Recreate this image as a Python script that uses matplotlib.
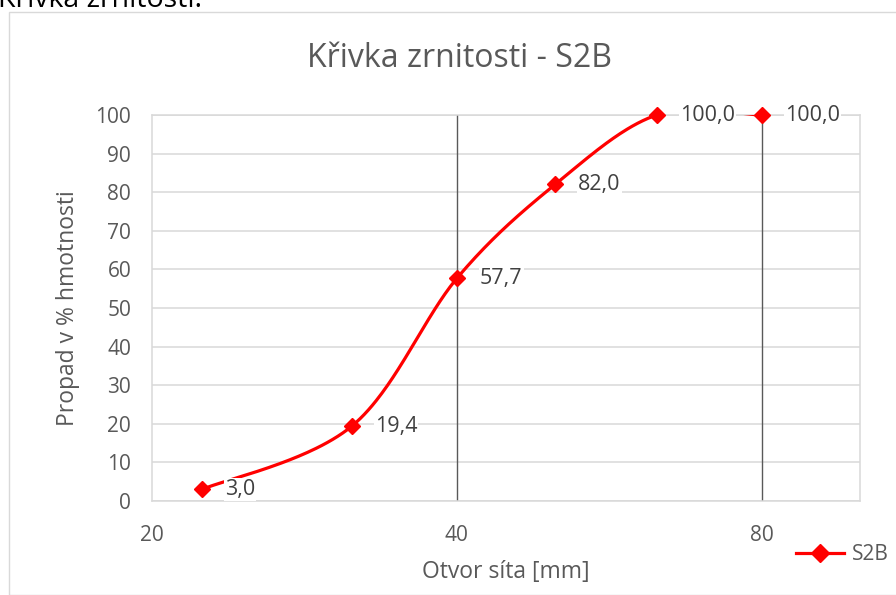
import numpy as np
import matplotlib
matplotlib.use("Agg")
import matplotlib.pyplot as plt
from matplotlib.patches import Rectangle
from matplotlib.lines import Line2D

plt.rcParams['font.family'] = ['Open Sans', 'DejaVu Sans']

sieve_mm = [22.4, 31.5, 40, 50, 63, 80]
passing = [3.0, 19.4, 57.7, 82.0, 100.0, 100.0]
series_name = "S2B"
x_ticks = [20, 40, 80]
y_ticks = list(range(0, 101, 10))

W, H = 896, 595
fig = plt.figure(figsize=(W / 100, H / 100), dpi=100)

# chart border
fig.patches.append(Rectangle((9 / W, 0), 1.0, 1 - 12 / H, transform=fig.transFigure,
                             fill=False, edgecolor='#d9d9d9', linewidth=1.0))
fig.text(-2 / W, 1 - 7 / H, "Křivka zrnitosti:", fontsize=20.5, color='black',
         ha='left', va='baseline')

ax = fig.add_axes([152 / W, (H - 501) / H, (860 - 152) / W, (501 - 115) / H])
ax.set_xscale('log', base=2)
ax.set_xlim(20, 100)
ax.set_ylim(0, 100)

ax.set_xticks(x_ticks)
ax.set_xticklabels([str(v) for v in x_ticks])
ax.xaxis.set_minor_locator(matplotlib.ticker.NullLocator())
ax.set_yticks(y_ticks)
ax.tick_params(axis='both', length=0, labelsize=15, colors='#595959')
ax.tick_params(axis='x', pad=17)
ax.tick_params(axis='y', pad=15)

for yv in y_ticks:
    ax.axhline(yv, color='#d9d9d9', linewidth=1.1, zorder=1)
for xv in x_ticks[1:]:
    ax.axvline(xv, color='#595959', linewidth=1.0, zorder=1)
for s in ax.spines.values():
    s.set_color('#d9d9d9')
    s.set_linewidth(1.1)

# Catmull-Rom smoothing in log2(x)-y space (Excel-like smoothed line)
lx = np.log2(np.array(sieve_mm, dtype=float))
py = np.array(passing, dtype=float)
P = np.column_stack([lx, py])
Pext = np.vstack([P[0], P, P[-1]])
curve = []
for i in range(1, len(Pext) - 2):
    p0, p1, p2, p3 = Pext[i - 1], Pext[i], Pext[i + 1], Pext[i + 2]
    t = np.linspace(0, 1, 60)[:, None]
    seg = 0.5 * ((2 * p1) + (-p0 + p2) * t + (2 * p0 - 5 * p1 + 4 * p2 - p3) * t ** 2
                 + (-p0 + 3 * p1 - 3 * p2 + p3) * t ** 3)
    curve.append(seg)
curve = np.vstack(curve)
ax.plot(2 ** curve[:, 0], curve[:, 1], color='#ff0000', linewidth=2.3, zorder=3,
        solid_capstyle='round')
ax.plot(sieve_mm, passing, linestyle='none', marker='D', markersize=8.5,
        color='#ff0000', zorder=4, clip_on=False)

for xv, yv in zip(sieve_mm, passing):
    ax.annotate(f"{yv:.1f}".replace('.', ','), (xv, yv), xytext=(16.5, 0),
                textcoords='offset points', fontsize=15.5, color='#404040',
                ha='left', va='center', zorder=5, annotation_clip=False,
                bbox=dict(boxstyle='square,pad=0.05', fc='white', ec='none'))

fig.text(459 / W, 1 - 67 / H, "Křivka zrnitosti - S2B", fontsize=23,
         color='#595959', ha='center', va='baseline')

ax.set_ylabel("Propad v % hmotnosti", fontsize=16.5, color='#595959', va='center')
ax.yaxis.set_label_coords((68 - 152) / (860 - 152), 0.5)
ax.set_xlabel("Otvor síta [mm]", fontsize=16.5, color='#595959', va='center')
ax.xaxis.set_label_coords(0.5, (501 - 572) / (501 - 115))

handle = Line2D([], [], color='#ff0000', linewidth=2.3, marker='D', markersize=9)
fig.legend([handle], [series_name], loc='center left',
           bbox_to_anchor=(796 / W, 1 - 555 / H), frameon=False, fontsize=15,
           labelcolor='#595959', handlelength=2.3, handletextpad=0.4,
           borderaxespad=0, borderpad=0)

fig.savefig("out.png", dpi=100)
